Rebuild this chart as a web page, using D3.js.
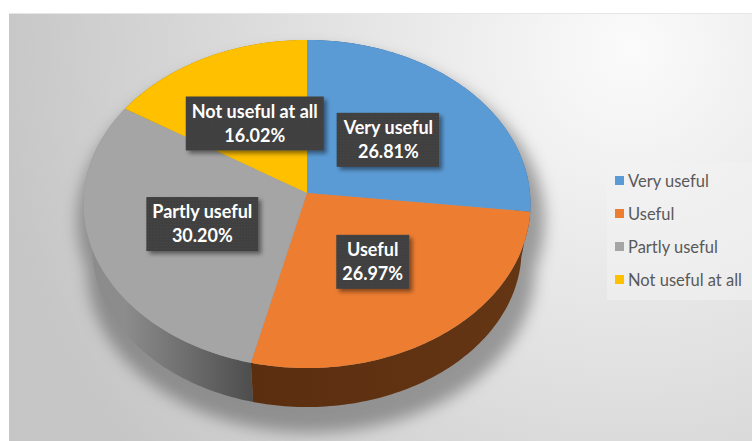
<!DOCTYPE html>
<html>
<head>
<meta charset="utf-8">
<script src="https://cdn.jsdelivr.net/npm/d3@7"></script>
<style>
  body { margin: 0; background: #fff; }
  svg { display: block; font-family: Lato, "Open Sans", sans-serif; }
</style>
</head>
<body>
<svg width="752" height="441"></svg>
<script>
const width = 752;
const height = 441;

// answers and their shares (%)
const categories = ["Very useful", "Useful", "Partly useful", "Not useful at all"];
const values = [26.81, 26.97, 30.20, 16.02];
const topColors = ["#5b9bd5", "#ed7d31", "#a5a5a5", "#ffc000"];
const sideColors = [["#2c5a85", "#34689a"], ["#5b2e10", "#643614"], ["#8c8c8c", "#4e4e4e"], ["#9a7400", "#b08500"]];

const data = categories.map((c, i) => ({ name: c, value: values[i], i }));

const svg = d3.select("svg");
const defs = svg.append("defs");

// panel background
const bg = defs.append("radialGradient").attr("id", "bg")
  .attr("gradientUnits", "userSpaceOnUse")
  .attr("cx", 630).attr("cy", 50).attr("r", 640);
bg.append("stop").attr("offset", 0).attr("stop-color", "#fbfbfb");
bg.append("stop").attr("offset", 0.5).attr("stop-color", "#e1e1e1");
bg.append("stop").attr("offset", 1).attr("stop-color", "#c6c6c6");

svg.append("rect").attr("x", 9).attr("y", 13)
  .attr("width", width - 9).attr("height", height - 13)
  .attr("fill", "url(#bg)");
svg.append("line").attr("x1", 9).attr("x2", width).attr("y1", 13.5).attr("y2", 13.5)
  .attr("stroke", "#e6e6e6");

// 3d projection of the disc
const cx = 307, cy = 193, R = 223, R2 = 163.3, k = 0.0671;
const depth = 46, shrink = 0.96;
function proj(r, a, bottom) {
  const u = r * Math.sin(a), v = r * Math.cos(a);
  const w = 1 + k * v;
  if (!bottom) return [cx + R * u / w, cy - R2 * v / w];
  return [cx + shrink * R * u / w, cy + depth - shrink * R2 * v / w];
}

const pie = d3.pie().sort(null).value(d => d.value).startAngle(0).endAngle(2 * Math.PI);
const arcs = pie(data);
const line = d3.line();

function arcPoints(a0, a1, bottom) {
  const n = Math.max(4, Math.ceil((a1 - a0) / 0.02));
  return d3.range(n + 1).map(j => proj(1, a0 + (a1 - a0) * j / n, bottom));
}

// soft shadow under the pie
const blur = defs.append("filter").attr("id", "blur")
  .attr("x", -0.2).attr("y", -0.2).attr("width", 1.4).attr("height", 1.4);
blur.append("feGaussianBlur").attr("stdDeviation", 7);

svg.append("g").attr("filter", "url(#blur)").attr("opacity", 0.55)
  .attr("transform", `translate(${cx + 4},${cy + 16}) scale(1.045) translate(${-cx},${-cy})`)
  .selectAll("path")
  .data([false, true])
  .join("path")
  .attr("d", b => line(arcPoints(0, 2 * Math.PI, b)) + "Z")
  .attr("fill", "#5a5a5a");

// side walls, back to front
const sideOrder = arcs.slice().sort((p, q) => {
  const m = d => Math.abs((d.startAngle + d.endAngle) / 2 - Math.PI);
  return m(q) - m(p);
});

sideOrder.forEach(d => {
  const p0 = proj(1, d.startAngle), p1 = proj(1, d.endAngle);
  const gid = "side" + d.data.i;
  const g = defs.append("linearGradient").attr("id", gid)
    .attr("gradientUnits", "userSpaceOnUse")
    .attr("x1", Math.min(p0[0], p1[0])).attr("x2", Math.max(p0[0], p1[0]))
    .attr("y1", 0).attr("y2", 0);
  g.append("stop").attr("offset", 0).attr("stop-color", sideColors[d.data.i][0]);
  g.append("stop").attr("offset", 1).attr("stop-color", sideColors[d.data.i][1]);
  const pts = arcPoints(d.startAngle, d.endAngle, false)
    .concat(arcPoints(d.startAngle, d.endAngle, true).reverse());
  svg.append("path").attr("d", line(pts) + "Z").attr("fill", `url(#${gid})`);
});

// top faces
svg.append("g").selectAll("path")
  .data(arcs)
  .join("path")
  .attr("d", d => line([[cx, cy]].concat(arcPoints(d.startAngle, d.endAngle, false))) + "Z")
  .attr("fill", d => topColors[d.data.i]);

// data labels
const pat = defs.append("pattern").attr("id", "dots")
  .attr("width", 3).attr("height", 3).attr("patternUnits", "userSpaceOnUse");
pat.append("rect").attr("width", 3).attr("height", 3).attr("fill", "#3f3f3f");
pat.append("rect").attr("width", 1).attr("height", 1).attr("fill", "#4a4a4a");

const ds = defs.append("filter").attr("id", "ds")
  .attr("x", -0.2).attr("y", -0.3).attr("width", 1.5).attr("height", 1.7);
ds.append("feDropShadow").attr("dx", 3).attr("dy", 3).attr("stdDeviation", 2)
  .attr("flood-color", "#000").attr("flood-opacity", 0.45);

const fmt = d3.format(".2f");
const labels = svg.append("g").selectAll("g")
  .data(arcs)
  .join("g")
  .attr("transform", d => `translate(${proj(0.5, (d.startAngle + d.endAngle) / 2)})`);

const box = labels.append("rect").attr("fill", "url(#dots)").attr("filter", "url(#ds)");

const txt = labels.append("text")
  .attr("text-anchor", "middle")
  .attr("fill", "#fff")
  .attr("font-weight", "bold")
  .attr("font-size", 18);
txt.append("tspan").attr("x", 0).attr("y", -6).text(d => d.data.name);
txt.append("tspan").attr("x", 0).attr("y", 18).text(d => fmt(d.data.value) + "%");

box.each(function () {
  const t = d3.select(this.parentNode).select("text").node().getBBox();
  d3.select(this)
    .attr("x", t.x - 6).attr("y", -27)
    .attr("width", t.width + 12).attr("height", 54);
});

// legend
const legend = svg.append("g").attr("transform", "translate(607,163)");
legend.append("rect").attr("width", 145).attr("height", 137)
  .attr("fill", "#f2f2f2").attr("opacity", 0.55);

const item = legend.selectAll("g.item")
  .data(categories)
  .join("g")
  .attr("class", "item")
  .attr("transform", (d, i) => `translate(8,${18 + i * 33})`);
item.append("rect").attr("x", 0).attr("y", -5).attr("width", 9).attr("height", 9)
  .attr("fill", (d, i) => topColors[i]);
item.append("text").attr("x", 13).attr("y", 5.5)
  .attr("font-size", 16.5).attr("fill", "#595959")
  .text(d => d);
</script>
</body>
</html>
